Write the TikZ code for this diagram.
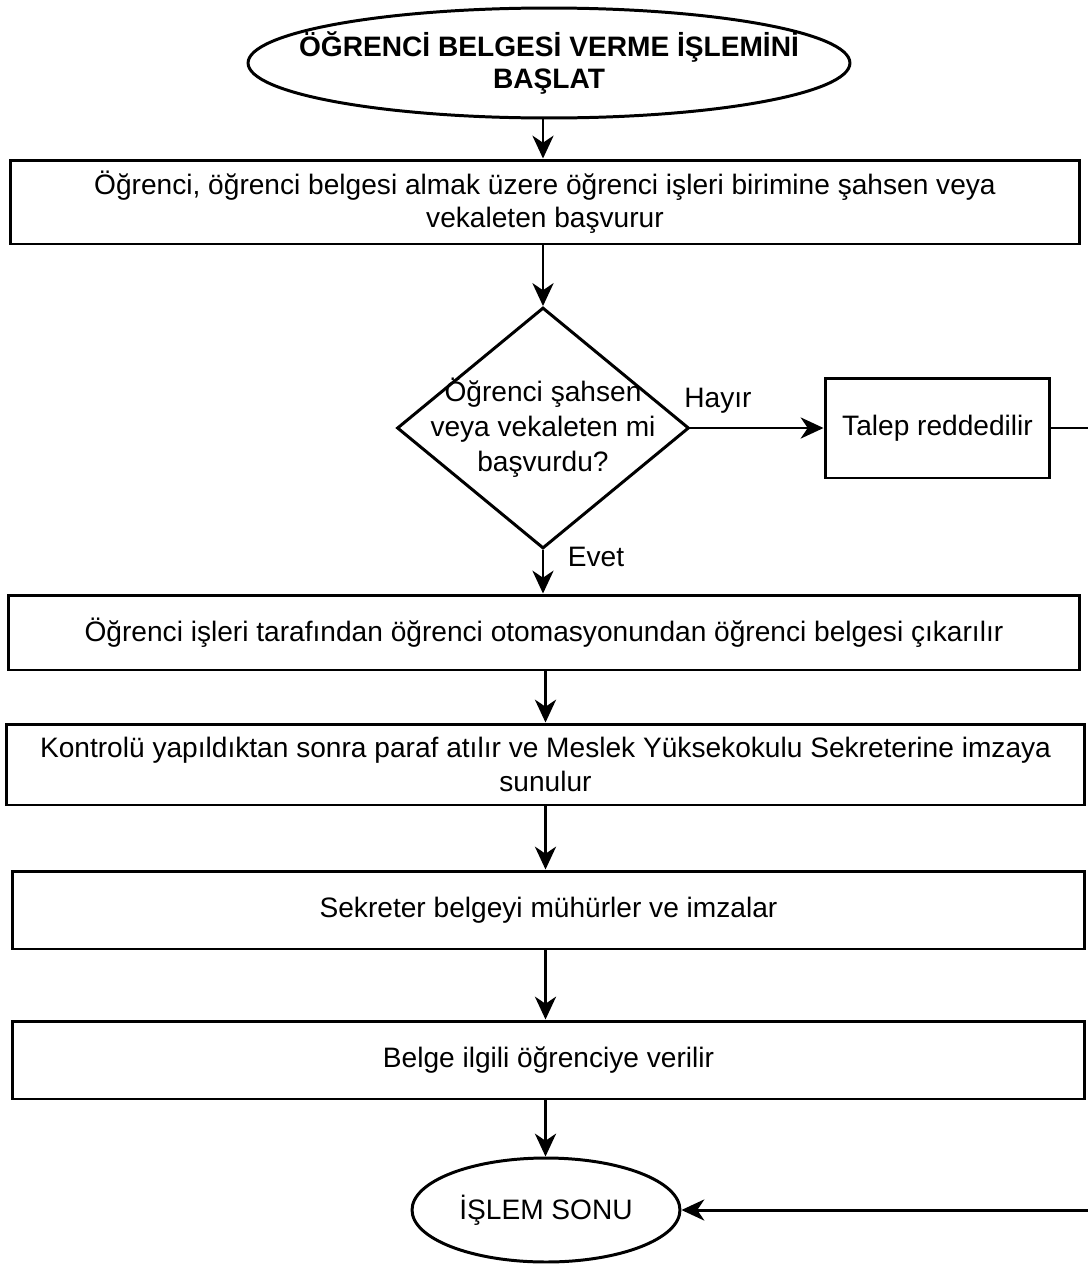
\documentclass[tikz,border=0pt]{standalone}
\usepackage{fontspec}
\setmainfont{Liberation Sans}
\usetikzlibrary{shapes.geometric, arrows.meta}

\begin{document}
\begin{tikzpicture}[x=0.02cm, y=-0.02cm,
    every node/.style={font=\fontsize{16}{19}\selectfont},
    process/.style={draw, line width=1.7pt, rectangle, inner sep=0pt, align=center},
    terminal/.style={draw, line width=1.7pt, ellipse, inner sep=0pt, align=center},
    decision/.style={draw, line width=1.7pt, diamond, inner sep=0pt},
    flow/.style={line width=1.7pt, -{Stealth[length=13pt, width=12pt, inset=4pt]}}]
  \useasboundingbox (0,0) rectangle (1088,1268);

  % start
  \node[terminal, minimum width=12.04cm, minimum height=2.2cm] (start) at (549,63) {};
  \node[align=center, font=\fontsize{16}{18}\selectfont\bfseries] (starttext) at (start)
    {ÖĞRENCİ BELGESİ VERME İŞLEMİNİ\\BAŞLAT};

  % steps
  \node[process, minimum width=21.4cm, minimum height=1.68cm] (apply) at (545,202)
    {Öğrenci, öğrenci belgesi almak üzere öğrenci işleri birimine şahsen veya\\vekaleten başvurur};
  \node[decision, minimum width=5.84cm, minimum height=4.82cm] (check) at (543,428) {};
  \node[align=center, font=\fontsize{16}{20}\selectfont] (checktext) at (check) {Öğrenci şahsen\\veya vekaleten mi\\başvurdu?};
  \node[process, minimum width=4.5cm, minimum height=2cm] (reject) at (937.5,428) {Talep reddedilir};
  \node[process, minimum width=21.44cm, minimum height=1.5cm] (print) at (544,632.5)
    {Öğrenci işleri tarafından öğrenci otomasyonundan öğrenci belgesi çıkarılır};
  \node[process, minimum width=21.58cm, minimum height=1.62cm] (control) at (545.5,764.5)
    {Kontrolü yapıldıktan sonra paraf atılır ve Meslek Yüksekokulu Sekreterine imzaya\\sunulur};
  \node[process, minimum width=21.46cm, minimum height=1.56cm] (sign) at (548.5,910)
    {Sekreter belgeyi mühürler ve imzalar};
  \node[process, minimum width=21.46cm, minimum height=1.56cm] (deliver) at (548.5,1060)
    {Belge ilgili öğrenciye verilir};
  \node[terminal, minimum width=5.36cm, minimum height=2.08cm] (stop) at (546,1210) {İŞLEM SONU};

  % labels
  \node (hayir) at (718,401) {Hayır};
  \node (evet) at (596,557) {Evet};

  % connectors
  \coordinate (turnup) at (1110,428);
  \coordinate (turndown) at (1110,1210);
  \draw[flow] (start.south -| check.north) -- (check.north |- apply.north);
  \draw[flow] (apply.south -| check.north) -- (check.north);
  \draw[flow] (check.east) -- (reject.west);
  \draw[flow] (check.south) -- (check.south |- print.north);
  \draw[flow] (print.south -| control.north) -- (control.north);
  \draw[flow] (control.south -| control.north) -- (control.north |- sign.north);
  \draw[flow] (sign.south -| control.north) -- (control.north |- deliver.north);
  \draw[flow] (deliver.south -| control.north) -- (control.north |- stop.north);
  \draw[flow] (reject.east) -- (turnup) -- (turndown) -- (stop.east);
\end{tikzpicture}
\end{document}
